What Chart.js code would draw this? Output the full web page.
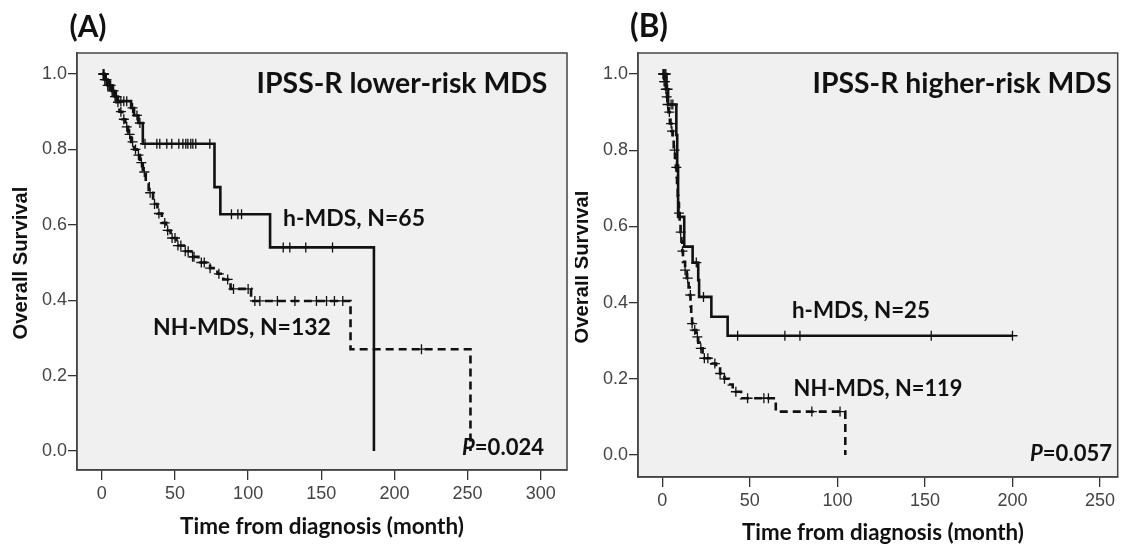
<!DOCTYPE html>
<html><head><meta charset="utf-8">
<script src="https://cdn.jsdelivr.net/npm/chart.js@4.4.1/dist/chart.umd.min.js"></script>
<style>
html,body{margin:0;padding:0;background:#fff;}
#wrap{position:relative;width:1124px;height:544px;overflow:hidden;background:#fff;}
canvas{position:absolute;top:0;}
</style></head><body>
<div id="wrap">
<canvas id="cA" width="575" height="544" style="left:0;width:575px;height:544px"></canvas>
<canvas id="cB" width="549" height="544" style="left:575px;width:549px;height:544px"></canvas>
</div>
<script>
// ---------------- DATA ----------------
const panelLabels = ['(A)', '(B)'];
const panelTitles = ['IPSS-R lower-risk MDS', 'IPSS-R higher-risk MDS'];
const seriesLabelsA = ['h-MDS, N=65', 'NH-MDS, N=132'];
const seriesLabelsB = ['h-MDS, N=25', 'NH-MDS, N=119'];
const pValueA = '=0.024';
const pValueB = '=0.057';
const xAxisTitle = 'Time from diagnosis (month)';
const yAxisTitle = 'Overall Survival';
const xTicksA = [0, 50, 100, 150, 200, 250, 300];
const xTicksB = [0, 50, 100, 150, 200, 250];
const yTicks = [0.0, 0.2, 0.4, 0.6, 0.8, 1.0];

// Panel A, h-MDS (solid): event times (months) and survival after each event
const aHTimes = [0, 2, 4, 7, 9, 11, 20, 22, 25, 28, 77, 81, 115, 186];
const aHSurv  = [1, 0.985, 0.97, 0.955, 0.94, 0.928, 0.91, 0.89, 0.87, 0.815, 0.70, 0.628, 0.54, 0];
const aHCensor = [1, 1.5, 3, 5, 6, 8, 10, 13, 15, 17, 21, 24, 26, 29.5, 37.6, 39.6, 44.4, 47.8, 52.6, 55.4, 57.4, 58.8, 60.8, 62.2, 64.2, 73.8, 88.6, 93, 95.5, 124, 128.5, 139.4, 157.7];

// Panel A, NH-MDS (dashed)
const aNTimes = [0, 2, 4, 6, 8, 10, 12, 14, 16, 18, 20, 22, 24, 26, 28, 30, 32, 35, 38, 41, 44, 47, 51, 56, 61, 66, 74, 79, 83, 88, 102, 170, 252];
const aNSurv  = [1, 0.985, 0.97, 0.955, 0.94, 0.925, 0.90, 0.88, 0.86, 0.84, 0.82, 0.80, 0.785, 0.765, 0.74, 0.71, 0.685, 0.655, 0.63, 0.605, 0.585, 0.565, 0.545, 0.53, 0.515, 0.50, 0.485, 0.47, 0.455, 0.43, 0.398, 0.27, 0];
const aNCensor = [1, 2, 3, 4, 5, 7, 9, 11, 13, 15, 17, 19, 21, 23, 25, 27, 29, 33, 36, 39, 43, 45, 48, 50, 52, 54, 57, 59, 62, 63, 68, 70, 74, 80, 86, 90, 100, 104.6, 108, 120, 132, 146.7, 153.6, 159, 164.7, 218.5];

// Panel B, h-MDS (solid)
const bHTimes = [0, 2.4, 3.3, 8, 8.5, 9, 12.5, 17.3, 20.5, 21, 28, 37.3];
const bHSurv  = [1, 0.96, 0.92, 0.84, 0.76, 0.625, 0.547, 0.505, 0.459, 0.415, 0.363, 0.313];
const bHCensor = [0.5, 1, 1.5, 2, 3, 5, 6, 19.4, 23.5, 43, 70, 78.6, 153.6, 200];

// Panel B, NH-MDS (dashed)
const bNTimes = [0, 1, 2, 2.5, 3, 3.5, 4.3, 5.2, 6, 6.5, 7.2, 7.7, 8.1, 8.4, 8.8, 9.1, 9.5, 9.9, 10.4, 10.9, 11.4, 11.8, 13, 14, 15, 15.6, 16.1, 16.5, 17, 17.5, 19.4, 20.5, 21.3, 23, 24, 28, 30.7, 33, 35.5, 38, 40.2, 45, 64.8, 104.5];
const bNSurv  = [1, 0.98, 0.96, 0.94, 0.92, 0.90, 0.87, 0.85, 0.83, 0.80, 0.78, 0.755, 0.73, 0.705, 0.68, 0.66, 0.635, 0.61, 0.585, 0.56, 0.535, 0.507, 0.485, 0.464, 0.44, 0.42, 0.39, 0.363, 0.345, 0.328, 0.31, 0.295, 0.28, 0.265, 0.254, 0.24, 0.227, 0.214, 0.20, 0.185, 0.166, 0.149, 0.114, 0];
const bNCensor = [0.5, 1, 1.5, 2, 2.5, 3, 4, 5, 5.5, 7, 8, 9.5, 10.5, 11.5, 13, 14.5, 16, 17, 18.5, 20, 22, 24, 26, 30, 33, 35.5, 42, 48.7, 58, 60.6, 85.4, 101.5];

// ---------------- HELPERS ----------------
function survAt(times, surv, t) {
  let s = 1;
  for (let i = 0; i < times.length; i++) if (times[i] <= t) s = surv[i];
  return s;
}
function kmLine(times, surv, censor) {
  const pts = times.map((t, i) => ({x: t, y: surv[i]}));
  const lastC = Math.max.apply(null, censor);
  if (lastC > times[times.length - 1]) pts.push({x: lastC, y: surv[surv.length - 1]});
  return pts;
}
function censorPts(times, surv, censor) {
  return censor.map(t => ({x: t, y: survAt(times, surv, t)}));
}

const measureCtx = document.createElement('canvas').getContext('2d');
function fitSize(segs, target) {
  const base = 40;
  let w = 0;
  for (const s of segs) { measureCtx.font = `${s.style} ${base}px ${s.family}`; w += measureCtx.measureText(s.t).width; }
  return base * target / w;
}
const LATO = '"Lato", "Open Sans", sans-serif';
const ARIAL = '"Liberation Sans", Arial, sans-serif';

function textPlugin(items, offX) {
  return {
    id: 'texts',
    afterDraw(chart) {
      const ctx = chart.ctx;
      ctx.save();
      ctx.fillStyle = '#111';
      ctx.textBaseline = 'middle';
      for (const it of items) {
        const size = fitSize(it.segs, it.w);
        ctx.save();
        ctx.translate(it.cx - offX, it.cy);
        if (it.rot) ctx.rotate(it.rot);
        let w = 0;
        for (const s of it.segs) { ctx.font = `${s.style} ${size}px ${s.family}`; w += ctx.measureText(s.t).width; }
        let x = -w / 2;
        ctx.textAlign = 'left';
        for (const s of it.segs) {
          ctx.font = `${s.style} ${size}px ${s.family}`;
          ctx.fillText(s.t, x, 0);
          x += ctx.measureText(s.t).width;
        }
        ctx.restore();
      }
      ctx.restore();
    }
  };
}
const boxPlugin = {
  id: 'box',
  beforeDraw(chart) {
    const a = chart.chartArea, ctx = chart.ctx;
    ctx.save();
    ctx.fillStyle = '#f0f0f0';
    ctx.fillRect(a.left, a.top, a.right - a.left, a.bottom - a.top);
    ctx.restore();
  },
  afterDraw(chart) {
    const a = chart.chartArea, ctx = chart.ctx;
    ctx.save();
    ctx.strokeStyle = '#444';
    ctx.lineWidth = 1.5;
    ctx.strokeRect(a.left, a.top, a.right - a.left, a.bottom - a.top);
    ctx.restore();
  }
};

function seg(t, style, family) { return {t, style, family}; }

function makeChart(id, c) {
  const lineStyle = {showLine: true, stepped: true, pointRadius: 0, borderColor: '#111', borderWidth: 2.6, fill: false};
  const crossStyle = {showLine: false, pointStyle: 'cross', pointRadius: 5, borderColor: '#111', borderWidth: 1.3, backgroundColor: '#111'};
  return new Chart(document.getElementById(id), {
    type: 'scatter',
    data: {datasets: [
      Object.assign({label: c.names[1], data: kmLine(c.nT, c.nS, c.nC), borderDash: [8, 5]}, lineStyle),
      Object.assign({label: c.names[0], data: kmLine(c.hT, c.hS, c.hC)}, lineStyle),
      Object.assign({label: c.names[1] + ' censored', data: censorPts(c.nT, c.nS, c.nC)}, crossStyle),
      Object.assign({label: c.names[0] + ' censored', data: censorPts(c.hT, c.hS, c.hC)}, crossStyle)
    ]},
    options: {
      responsive: false, animation: false, devicePixelRatio: 1,
      layout: {padding: {top: c.top, right: c.right, left: 0, bottom: 0}},
      plugins: {legend: {display: false}, tooltip: {enabled: false}},
      scales: {
        x: {
          type: 'linear', min: c.xMin, max: c.xMax,
          afterBuildTicks: s => { s.ticks = c.xTicks.map(v => ({value: v})); },
          afterFit: s => { s.height = c.xH; s.paddingLeft = 0; s.paddingRight = 0; },
          grid: {drawOnChartArea: false, drawTicks: true, tickLength: 10, color: '#333', lineWidth: 1.3},
          border: {display: true, color: '#444', width: 1.5},
          ticks: {font: {family: ARIAL, size: 18}, color: '#444', padding: 3, maxRotation: 0, autoSkip: false, callback: v => String(v)}
        },
        y: {
          type: 'linear', min: c.yMin, max: c.yMax,
          afterBuildTicks: s => { s.ticks = yTicks.map(v => ({value: v})); },
          afterFit: s => { s.width = c.yW; s.paddingTop = 0; s.paddingBottom = 0; },
          grid: {drawOnChartArea: false, drawTicks: true, tickLength: 9, color: '#333', lineWidth: 1.3},
          border: {display: true, color: '#444', width: 1.5},
          ticks: {font: {family: ARIAL, size: 18}, color: '#444', padding: 1, autoSkip: false, callback: v => Number(v).toFixed(1)}
        }
      }
    },
    plugins: [boxPlugin, textPlugin(c.texts, c.offX)]
  });
}

// ---------------- PANEL A ----------------
makeChart('cA', {
  names: seriesLabelsA, hT: aHTimes, hS: aHSurv, hC: aHCensor, nT: aNTimes, nS: aNSurv, nC: aNCensor,
  xTicks: xTicksA, xMin: -17, xMax: 318, yMin: -0.0504, yMax: 1.0557,
  top: 53, right: 8, xH: 74, yW: 77, offX: 0,
  texts: [
    {segs: [seg(panelLabels[0], 'bold', LATO)], cx: 88, cy: 27, w: 37},
    {segs: [seg(panelTitles[0], 'bold', LATO)], cx: 402, cy: 84, w: 291},
    {segs: [seg(seriesLabelsA[0], 'bold', LATO)], cx: 354, cy: 219, w: 142},
    {segs: [seg(seriesLabelsA[1], 'bold', LATO)], cx: 242, cy: 328, w: 178},
    {segs: [seg('P', 'italic bold', LATO), seg(pValueA, 'bold', LATO)], cx: 503, cy: 448, w: 82},
    {segs: [seg(xAxisTitle, 'bold', LATO)], cx: 322, cy: 527, w: 284},
    {segs: [seg(yAxisTitle, 'bold', ARIAL)], cx: 21, cy: 263, w: 153, rot: -Math.PI / 2}
  ]
});

// ---------------- PANEL B ----------------
makeChart('cB', {
  names: seriesLabelsB, hT: bHTimes, hS: bHSurv, hC: bHCensor, nT: bNTimes, nS: bNSurv, nC: bNCensor,
  xTicks: xTicksB, xMin: -13.9, xMax: 260.1, yMin: -0.0577, yMax: 1.0551,
  top: 53, right: 3, xH: 67, yW: 63, offX: 575,
  texts: [
    {segs: [seg(panelLabels[1], 'bold', LATO)], cx: 649, cy: 27, w: 38},
    {segs: [seg(panelTitles[1], 'bold', LATO)], cx: 962, cy: 84, w: 299},
    {segs: [seg(seriesLabelsB[0], 'bold', LATO)], cx: 861, cy: 311, w: 138},
    {segs: [seg(seriesLabelsB[1], 'bold', LATO)], cx: 878, cy: 389, w: 169},
    {segs: [seg('P', 'italic bold', LATO), seg(pValueB, 'bold', LATO)], cx: 1071, cy: 454, w: 82},
    {segs: [seg(xAxisTitle, 'bold', LATO)], cx: 883, cy: 533, w: 282},
    {segs: [seg(yAxisTitle, 'bold', ARIAL)], cx: 582, cy: 267, w: 153, rot: -Math.PI / 2}
  ]
});
</script>
</body></html>
